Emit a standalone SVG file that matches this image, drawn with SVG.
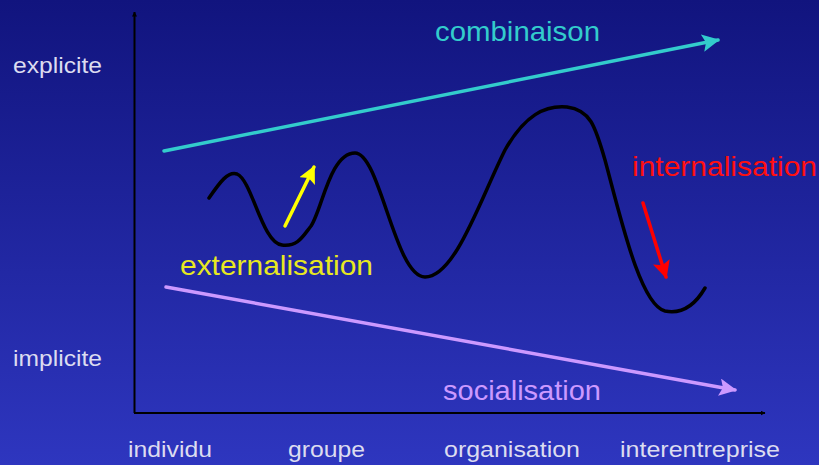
<svg xmlns="http://www.w3.org/2000/svg" width="819" height="465" viewBox="0 0 819 465">
<style>
.lbl{font-family:"Liberation Sans",Arial,sans-serif;font-size:22px;fill:#dcdcf0}
.big{font-family:"Liberation Sans",Arial,sans-serif;font-size:28px}
.ln{fill:none;stroke-width:3.5;stroke-linecap:round}
</style>
<defs>
<linearGradient id="bg" x1="0" y1="0" x2="0" y2="1">
<stop offset="0" stop-color="#11147e"/>
<stop offset="1" stop-color="#2e36bf"/>
</linearGradient>
<marker id="ha" viewBox="0 0 10 10" refX="9" refY="5" markerWidth="5" markerHeight="5" orient="auto" markerUnits="userSpaceOnUse"><path d="M0,0L10,5L0,10z" fill="#000"/></marker>
<marker id="hc" viewBox="0 0 10 10" refX="9" refY="5" markerWidth="5" markerHeight="5" orient="auto"><path d="M0,0L10,5L0,10L2,5z" fill="#33cccc"/></marker>
<marker id="hv" viewBox="0 0 10 10" refX="9" refY="5" markerWidth="5" markerHeight="5" orient="auto"><path d="M0,0L10,5L0,10L2,5z" fill="#cc99ff"/></marker>
<marker id="hy" viewBox="0 0 10 10" refX="9" refY="5" markerWidth="5" markerHeight="5" orient="auto"><path d="M0,0L10,5L0,10L2,5z" fill="#ffff00"/></marker>
<marker id="hr" viewBox="0 0 10 10" refX="9" refY="5" markerWidth="5" markerHeight="5" orient="auto"><path d="M0,0L10,5L0,10L2,5z" fill="#ff0000"/></marker>
</defs>
<rect width="819" height="465" fill="url(#bg)"/>
<g id="axes">
<line x1="134.5" y1="413" x2="134.5" y2="12" stroke="#000" stroke-width="2" marker-end="url(#ha)"/>
<line x1="134" y1="413" x2="765" y2="413" stroke="#000" stroke-width="2" marker-end="url(#ha)"/>
</g>
<g id="axis-labels">
<text class="lbl" x="13" y="73" textLength="89" lengthAdjust="spacingAndGlyphs">explicite</text>
<text class="lbl" x="13" y="366" textLength="89" lengthAdjust="spacingAndGlyphs">implicite</text>
<text class="lbl" x="128" y="457" textLength="84" lengthAdjust="spacingAndGlyphs">individu</text>
<text class="lbl" x="288" y="457" textLength="77" lengthAdjust="spacingAndGlyphs">groupe</text>
<text class="lbl" x="444" y="457" textLength="136" lengthAdjust="spacingAndGlyphs">organisation</text>
<text class="lbl" x="620" y="457" textLength="160" lengthAdjust="spacingAndGlyphs">interentreprise</text>
</g>
<g id="wave">
<path class="ln" stroke="#000" stroke-width="3" d="M209,198 C220,182 228,171 237,174 C252,180 262,243 282,245 C298,247 303,236 311,226 C322,210 330,153 355,153 C380,153 395,277 425,277 C455,277 480,200 505,150 C525,115 545,105 567,107 C590,110 595,125 605,160 C620,215 640,305 665,311 C685,315 698,300 705,288"/>
</g>
<g id="connectors">
<line class="ln" stroke="#33cccc" x1="164" y1="151" x2="718" y2="40" marker-end="url(#hc)"/>
<line class="ln" stroke="#cc99ff" x1="166" y1="287" x2="735" y2="390" marker-end="url(#hv)"/>
<line class="ln" stroke="#ffff00" x1="285" y1="226" x2="314" y2="167" marker-end="url(#hy)"/>
<line class="ln" stroke="#ff0000" x1="643" y1="203" x2="666" y2="277" marker-end="url(#hr)"/>
</g>
<g id="combinaison"><text class="big" fill="#33cccc" x="435" y="41" textLength="165" lengthAdjust="spacingAndGlyphs">combinaison</text></g>
<g id="socialisation"><text class="big" fill="#cc99ff" x="443" y="400" textLength="158" lengthAdjust="spacingAndGlyphs">socialisation</text></g>
<g id="externalisation"><text class="big" fill="#e8e820" x="180" y="275" textLength="193" lengthAdjust="spacingAndGlyphs">externalisation</text></g>
<g id="internalisation"><text class="big" fill="#ff1010" x="632" y="176" textLength="185" lengthAdjust="spacingAndGlyphs">internalisation</text></g>
</svg>
